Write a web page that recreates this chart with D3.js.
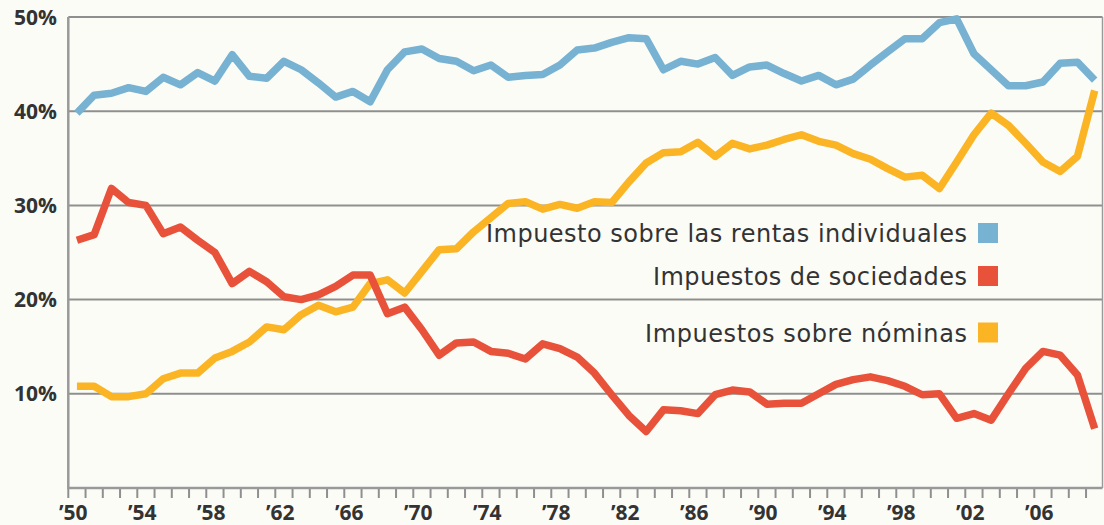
<!DOCTYPE html>
<html><head><meta charset="utf-8">
<script src="https://cdn.jsdelivr.net/npm/d3@7"></script>
<style>
html,body{margin:0;padding:0;background:#fcfcf7;}
svg{display:block;}
</style></head>
<body>
<svg id="chart" width="1104" height="525"></svg>
<script>
const years = d3.range(1950, 2010);
const individual = [39.8,41.7,41.9,42.5,42.1,43.6,42.8,44.1,43.2,46.0,
  43.7,43.5,45.3,44.4,43.0,41.5,42.1,41.0,44.4,46.3,
  46.6,45.6,45.3,44.3,44.9,43.6,43.8,43.9,44.9,46.5,
  46.7,47.3,47.8,47.7,44.4,45.3,45.0,45.7,43.8,44.7,
  44.9,44.0,43.2,43.8,42.8,43.4,44.9,46.3,47.7,47.7,
  49.4,49.8,46.1,44.4,42.7,42.7,43.1,45.1,45.2,43.3];
const corporate = [26.3,26.9,31.8,30.3,30.0,27.0,27.7,26.3,25.0,21.7,
  23.0,21.9,20.3,20.0,20.5,21.4,22.6,22.6,18.5,19.2,
  16.8,14.1,15.4,15.5,14.5,14.3,13.7,15.3,14.8,13.9,
  12.2,9.9,7.7,6.0,8.3,8.2,7.9,9.9,10.4,10.2,
  8.9,9.0,9.0,10.0,11.0,11.5,11.8,11.4,10.8,9.9,
  10.0,7.4,7.9,7.2,10.0,12.7,14.5,14.1,12.0,6.3];
const payroll = [10.8,10.8,9.7,9.7,10.0,11.6,12.2,12.2,13.8,14.5,
  15.5,17.1,16.8,18.4,19.4,18.7,19.2,21.7,22.1,20.7,
  23.0,25.3,25.4,27.2,28.7,30.2,30.4,29.6,30.1,29.7,
  30.4,30.3,32.5,34.5,35.6,35.7,36.7,35.2,36.6,36.0,
  36.4,37.0,37.5,36.8,36.4,35.5,34.9,33.9,33.0,33.2,
  31.8,34.6,37.5,39.8,38.5,36.6,34.6,33.6,35.2,42.2];
const seriesNames = ["Impuesto sobre las rentas individuales","Impuestos de sociedades","Impuestos sobre nóminas"];
const seriesColors = ["#77b2d2","#e8523a","#fbb424"];
const yTicks = [10,20,30,40,50];
const yTickLabels = ["10%","20%","30%","40%","50%"];
const xLabelYears = d3.range(1950, 2007, 4);

const svg = d3.select("#chart");
const L = 68.3, R = 1102.5, T = 17, B = 488;
const x = d3.scaleBand().domain(years).range([L, L + 17.25*60]).padding(0);
const xc = yr => x(yr) + x.bandwidth()/2;
const y = d3.scaleLinear().domain([0, 50]).range([B, T]);

// gridlines
svg.append("g").selectAll("line").data(yTicks).join("line")
  .attr("x1", L).attr("x2", R)
  .attr("y1", d => y(d)).attr("y2", d => y(d))
  .attr("stroke", "#8f8f8f").attr("stroke-width", 2);

// right border
svg.append("line").attr("x1", R).attr("x2", R).attr("y1", T).attr("y2", B)
  .attr("stroke", "#9a9a9a").attr("stroke-width", 1.5);

// y labels
svg.append("g").selectAll("text").data(yTicks).join("text")
  .attr("x", 57).attr("y", d => y(d)).attr("dy", "0.36em")
  .attr("text-anchor", "end")
  .attr("font-family", "Open Sans, sans-serif").attr("font-weight", 700)
  .attr("font-size", 21).attr("fill", "#333")
  .text((d, i) => yTickLabels[i]);

// x axis ticks
svg.append("g").selectAll("line").data(years).join("line")
  .attr("x1", d => x(d)).attr("x2", d => x(d))
  .attr("y1", B).attr("y2", B + 10)
  .attr("stroke", "#8f8f8f").attr("stroke-width", 2);

// axis lines
svg.append("line").attr("x1", L).attr("x2", L).attr("y1", T).attr("y2", B + 1)
  .attr("stroke", "#999").attr("stroke-width", 2.5);
svg.append("line").attr("x1", L - 1).attr("x2", R).attr("y1", B).attr("y2", B)
  .attr("stroke", "#999").attr("stroke-width", 2.5);

// x labels
svg.append("g").selectAll("text").data(xLabelYears).join("text")
  .attr("x", d => x(d) + 5).attr("y", 520)
  .attr("text-anchor", "middle")
  .attr("font-family", "Open Sans, sans-serif").attr("font-weight", 700)
  .attr("font-size", 21).attr("fill", "#333")
  .text(d => "\u2019" + String(d).slice(2));

// lines
const line = d3.line().x((d, i) => xc(years[i])).y(d => y(d));
[payroll, corporate, individual].forEach((s, k) => {
  const ci = [2, 1, 0][k];
  svg.append("path").datum(s)
    .attr("d", line)
    .attr("fill", "none")
    .attr("stroke", seriesColors[ci])
    .attr("stroke-width", 7.5)
    .attr("stroke-linejoin", "round");
});

// legend
const legendBase = [242, 285, 341.5];
const legendWidths = [481, 314, 322];
const lg = svg.append("g");
seriesNames.forEach((n, i) => {
  lg.append("text")
    .attr("x", 967).attr("y", legendBase[i])
    .attr("text-anchor", "end")
    .attr("font-family", "DejaVu Sans, sans-serif")
    .attr("font-size", 24).attr("fill", "#333")
    .attr("textLength", legendWidths[i]).attr("lengthAdjust", "spacing")
    .text(n);
  lg.append("rect")
    .attr("x", 978).attr("y", legendBase[i] - 19)
    .attr("width", 20).attr("height", 20)
    .attr("fill", seriesColors[i]);
});
</script>
</body></html>
